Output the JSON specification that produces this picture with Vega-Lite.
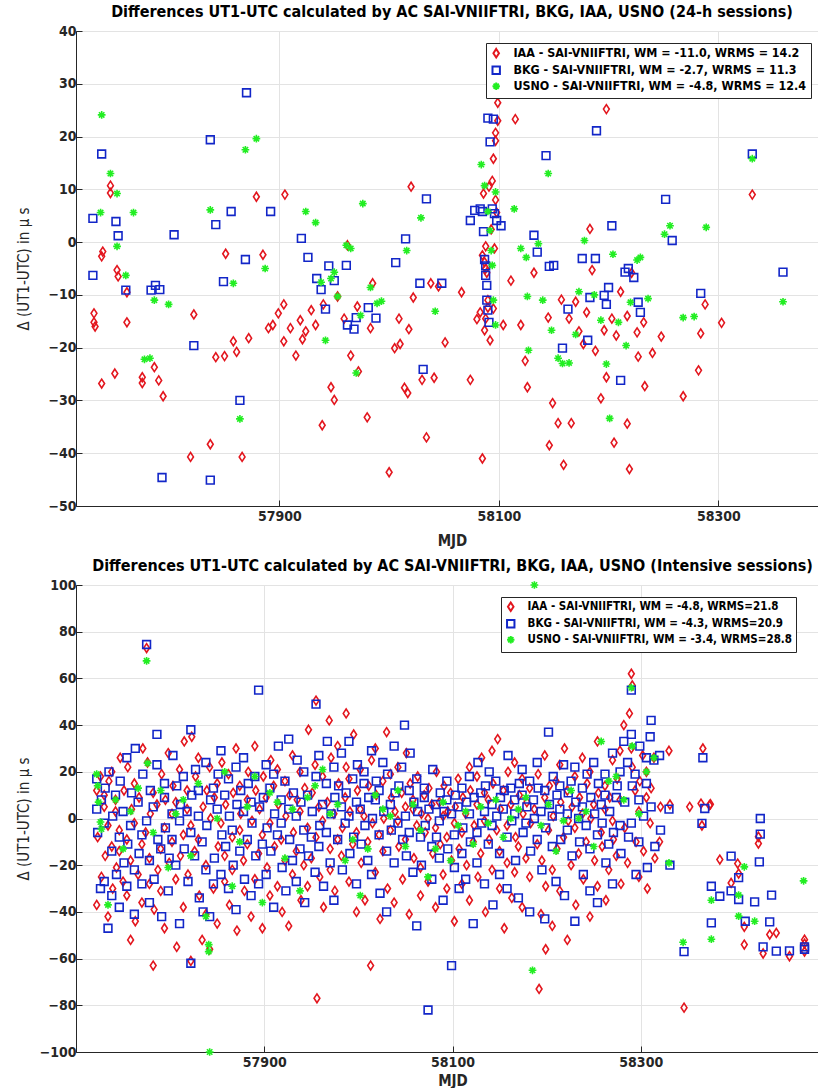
{
"$schema":"https://vega.github.io/schema/vega-lite/v6.json",
"background":"white",
"padding":{"left":15,"top":3,"right":0,"bottom":0},
"spacing":8,
"config":{
 "font":"DejaVu Sans Condensed, Liberation Sans, sans-serif",
 "view":{"stroke":"#262626","strokeWidth":1},
 "axis":{"labelFont":"DejaVu Sans Condensed, Liberation Sans, sans-serif","labelFontWeight":"bold","labelFontSize":14,"labelColor":"#262626","titleFont":"DejaVu Sans Condensed, Liberation Sans, sans-serif","titleFontWeight":"bold","titleFontSize":15,"titleColor":"#262626","gridColor":"#e3e3e3","gridWidth":1,"domainColor":"#262626","tickColor":"#262626","tickSize":-6,"labelPadding":9},
 "title":{"font":"DejaVu Sans Condensed, Liberation Sans, sans-serif","fontSize":16,"fontWeight":"bold","color":"black","anchor":"middle","frame":"group"},
 "legend":{"labelFont":"DejaVu Sans Condensed, Liberation Sans, sans-serif","labelFontWeight":"bold","labelFontSize":11.5,"labelColor":"black","labelLimit":500}
},
"resolve":{"scale":{"x":"independent","y":"independent","color":"independent","shape":"independent"},"legend":{"color":"independent","shape":"independent"}},
"datasets":{
"top":[
{"s":"I","x":57731,"y":-13.5},{"s":"I","x":57731,"y":-15.2},{"s":"I","x":57732,"y":-16},{"s":"I","x":57738,"y":-26.8},{"s":"I","x":57738,"y":-2.7},{"s":"I","x":57739,"y":-1.8},{"s":"I","x":57746,"y":10.7},{"s":"I","x":57746,"y":9.3},{"s":"I","x":57752,"y":-5.3},{"s":"I","x":57753,"y":-6.5},{"s":"I","x":57750,"y":-24.9},{"s":"I","x":57761,"y":-9.5},{"s":"I","x":57761,"y":-15.2},{"s":"I","x":57775,"y":-25.6},{"s":"I","x":57775,"y":-26.7},{"s":"I","x":57786,"y":-23.7},{"s":"I","x":57790,"y":-26.2},{"s":"I","x":57794,"y":-29.2},{"s":"I","x":57819,"y":-40.7},{"s":"I","x":57822,"y":-13.7},{"s":"I","x":57837,"y":-38.3},{"s":"I","x":57842,"y":-21.8},{"s":"I","x":57850,"y":-21.6},{"s":"I","x":57851,"y":-2.2},{"s":"I","x":57858,"y":-18.8},{"s":"I","x":57861,"y":-20.8},{"s":"I","x":57866,"y":-40.7},{"s":"I","x":57872,"y":-18.2},{"s":"I","x":57879,"y":8.6},{"s":"I","x":57885,"y":-2.4},{"s":"I","x":57890,"y":-16.3},{"s":"I","x":57894,"y":-15.7},{"s":"I","x":57899,"y":-13.5},{"s":"I","x":57904,"y":-11.8},{"s":"I","x":57904,"y":-18.8},{"s":"I","x":57905,"y":9},{"s":"I","x":57910,"y":-16.3},{"s":"I","x":57915,"y":-21.5},{"s":"I","x":57919,"y":-14.8},{"s":"I","x":57921,"y":-18.4},{"s":"I","x":57924,"y":-16.9},{"s":"I","x":57929,"y":-12.9},{"s":"I","x":57933,"y":-15.7},{"s":"I","x":57940,"y":-11.8},{"s":"I","x":57939,"y":-34.7},{"s":"I","x":57947,"y":-27.5},{"s":"I","x":57950,"y":-29.9},{"s":"I","x":57953,"y":-10.3},{"s":"I","x":57959,"y":-14.5},{"s":"I","x":57962,"y":-0.6},{"s":"I","x":57965,"y":-21.5},{"s":"I","x":57971,"y":-12.2},{"s":"I","x":57972,"y":-24.5},{"s":"I","x":57980,"y":-33.2},{"s":"I","x":57983,"y":-16.3},{"s":"I","x":57985,"y":-7.8},{"s":"I","x":58000,"y":-43.6},{"s":"I","x":58005,"y":-20.1},{"s":"I","x":58010,"y":-19.3},{"s":"I","x":58009,"y":-14.5},{"s":"I","x":58014,"y":-27.6},{"s":"I","x":58017,"y":-28.6},{"s":"I","x":58018,"y":-16.5},{"s":"I","x":58022,"y":-10.5},{"s":"I","x":58020,"y":10.5},{"s":"I","x":58030,"y":-26.1},{"s":"I","x":58034,"y":-37},{"s":"I","x":58038,"y":-7.8},{"s":"I","x":58041,"y":-25.7},{"s":"I","x":58045,"y":-8.4},{"s":"I","x":58051,"y":-19},{"s":"I","x":58066,"y":-9.5},{"s":"I","x":58074,"y":-26.1},{"s":"I","x":58080,"y":-14.6},{"s":"I","x":58083,"y":-13.3},{"s":"I","x":58085,"y":-41},{"s":"I","x":58085,"y":-2.5},{"s":"I","x":58087,"y":-3.8},{"s":"I","x":58088,"y":-5},{"s":"I","x":58089,"y":-5.8},{"s":"I","x":58090,"y":-11},{"s":"I","x":58087,"y":-16.7},{"s":"I","x":58088,"y":-14.5},{"s":"I","x":58090,"y":-12.4},{"s":"I","x":58092,"y":-18.6},{"s":"I","x":58086,"y":9.2},{"s":"I","x":58088,"y":-0.8},{"s":"I","x":58093,"y":2.4},{"s":"I","x":58091,"y":10.5},{"s":"I","x":58094,"y":11.6},{"s":"I","x":58095,"y":15.8},{"s":"I","x":58097,"y":19.2},{"s":"I","x":58097,"y":20.7},{"s":"I","x":58099,"y":23},{"s":"I","x":58099,"y":26.4},{"s":"I","x":58097,"y":8},{"s":"I","x":58098,"y":5.6},{"s":"I","x":58096,"y":-1.2},{"s":"I","x":58095,"y":-12.6},{"s":"I","x":58104,"y":-15.7},{"s":"I","x":58115,"y":23.3},{"s":"I","x":58111,"y":-7.3},{"s":"I","x":58120,"y":-15.7},{"s":"I","x":58124,"y":-22.5},{"s":"I","x":58126,"y":-27.5},{"s":"I","x":58132,"y":-5.8},{"s":"I","x":58145,"y":-14.3},{"s":"I","x":58146,"y":-38.5},{"s":"I","x":58149,"y":-30.5},{"s":"I","x":58154,"y":-34.3},{"s":"I","x":58157,"y":-10.9},{"s":"I","x":58159,"y":-42.2},{"s":"I","x":58164,"y":-14.5},{"s":"I","x":58166,"y":-34.3},{"s":"I","x":58170,"y":-11.3},{"s":"I","x":58173,"y":-16.9},{"s":"I","x":58177,"y":-19.3},{"s":"I","x":58180,"y":-13.3},{"s":"I","x":58183,"y":2.5},{"s":"I","x":58185,"y":-5.3},{"s":"I","x":58188,"y":-20.6},{"s":"I","x":58193,"y":-29.6},{"s":"I","x":58198,"y":25.2},{"s":"I","x":58196,"y":-16.7},{"s":"I","x":58198,"y":-25.6},{"s":"I","x":58203,"y":-14.5},{"s":"I","x":58205,"y":-38},{"s":"I","x":58207,"y":-17.7},{"s":"I","x":58211,"y":-9.4},{"s":"I","x":58217,"y":-34.4},{"s":"I","x":58217,"y":-14},{"s":"I","x":58219,"y":-43},{"s":"I","x":58221,"y":-5.8},{"s":"I","x":58226,"y":-17.1},{"s":"I","x":58227,"y":-21.7},{"s":"I","x":58232,"y":-15.2},{"s":"I","x":58233,"y":-27.3},{"s":"I","x":58240,"y":-21},{"s":"I","x":58248,"y":-17.9},{"s":"I","x":58268,"y":-29.2},{"s":"I","x":58282,"y":-24.3},{"s":"I","x":58288,"y":-11.8},{"s":"I","x":58284,"y":-17.3},{"s":"I","x":58303,"y":-15.3},{"s":"I","x":58331,"y":9},
{"s":"B","x":57730,"y":4.5},{"s":"B","x":57730,"y":-6.3},{"s":"B","x":57738,"y":16.7},{"s":"B","x":57751,"y":3.9},{"s":"B","x":57753,"y":1.2},{"s":"B","x":57760,"y":-9.1},{"s":"B","x":57783,"y":-9.1},{"s":"B","x":57787,"y":-8.2},{"s":"B","x":57791,"y":-9},{"s":"B","x":57793,"y":-44.6},{"s":"B","x":57804,"y":1.4},{"s":"B","x":57822,"y":-19.6},{"s":"B","x":57837,"y":-45.1},{"s":"B","x":57837,"y":19.4},{"s":"B","x":57842,"y":3.3},{"s":"B","x":57849,"y":-7.5},{"s":"B","x":57856,"y":5.8},{"s":"B","x":57864,"y":-30},{"s":"B","x":57869,"y":-3.3},{"s":"B","x":57870,"y":28.3},{"s":"B","x":57892,"y":5.8},{"s":"B","x":57920,"y":0.7},{"s":"B","x":57926,"y":-2.9},{"s":"B","x":57934,"y":-6.9},{"s":"B","x":57938,"y":-9},{"s":"B","x":57942,"y":-12.7},{"s":"B","x":57945,"y":-4.5},{"s":"B","x":57950,"y":-7.3},{"s":"B","x":57961,"y":-4.4},{"s":"B","x":57962,"y":-15.7},{"s":"B","x":57968,"y":-16.5},{"s":"B","x":57970,"y":-14.3},{"s":"B","x":57981,"y":-12.4},{"s":"B","x":57988,"y":-14.4},{"s":"B","x":58006,"y":-3.9},{"s":"B","x":58015,"y":0.6},{"s":"B","x":58028,"y":-7.8},{"s":"B","x":58034,"y":8.2},{"s":"B","x":58031,"y":-24.1},{"s":"B","x":58048,"y":-7.8},{"s":"B","x":58074,"y":4.1},{"s":"B","x":58078,"y":6},{"s":"B","x":58083,"y":6.3},{"s":"B","x":58085,"y":5.8},{"s":"B","x":58086,"y":2},{"s":"B","x":58087,"y":-3.3},{"s":"B","x":58088,"y":-4.5},{"s":"B","x":58088,"y":-6.3},{"s":"B","x":58089,"y":-8.2},{"s":"B","x":58089,"y":-11},{"s":"B","x":58090,"y":-12.9},{"s":"B","x":58091,"y":-15.2},{"s":"B","x":58090,"y":23.5},{"s":"B","x":58092,"y":19},{"s":"B","x":58095,"y":23.3},{"s":"B","x":58094,"y":6.3},{"s":"B","x":58096,"y":5.4},{"s":"B","x":58098,"y":4.1},{"s":"B","x":58102,"y":3.1},{"s":"B","x":58132,"y":1.3},{"s":"B","x":58135,"y":-1.9},{"s":"B","x":58143,"y":16.4},{"s":"B","x":58146,"y":-4.6},{"s":"B","x":58150,"y":-4.4},{"s":"B","x":58158,"y":-20.1},{"s":"B","x":58163,"y":-12.7},{"s":"B","x":58176,"y":-3.1},{"s":"B","x":58181,"y":-18.6},{"s":"B","x":58183,"y":-10.5},{"s":"B","x":58188,"y":-3.1},{"s":"B","x":58189,"y":21.1},{"s":"B","x":58196,"y":-10.1},{"s":"B","x":58198,"y":-11.8},{"s":"B","x":58200,"y":-8.6},{"s":"B","x":58203,"y":3.1},{"s":"B","x":58211,"y":-26.2},{"s":"B","x":58215,"y":-5.7},{"s":"B","x":58218,"y":-5},{"s":"B","x":58223,"y":-6.7},{"s":"B","x":58227,"y":-11.4},{"s":"B","x":58229,"y":-13.3},{"s":"B","x":58252,"y":8.1},{"s":"B","x":58258,"y":0.3},{"s":"B","x":58284,"y":-9.7},{"s":"B","x":58331,"y":16.7},{"s":"B","x":58359,"y":-5.7},
{"s":"U","x":57738,"y":24.1},{"s":"U","x":57737,"y":5.6},{"s":"U","x":57746,"y":13},{"s":"U","x":57752,"y":9.2},{"s":"U","x":57752,"y":-0.8},{"s":"U","x":57760,"y":-6.3},{"s":"U","x":57767,"y":5.6},{"s":"U","x":57777,"y":-22.2},{"s":"U","x":57782,"y":-22},{"s":"U","x":57786,"y":-11},{"s":"U","x":57799,"y":-11.8},{"s":"U","x":57837,"y":6.1},{"s":"U","x":57858,"y":-7.8},{"s":"U","x":57864,"y":-33.5},{"s":"U","x":57869,"y":17.5},{"s":"U","x":57879,"y":19.6},{"s":"U","x":57887,"y":-5},{"s":"U","x":57924,"y":5.8},{"s":"U","x":57933,"y":3.7},{"s":"U","x":57938,"y":-7.6},{"s":"U","x":57942,"y":-18.6},{"s":"U","x":57947,"y":-6.9},{"s":"U","x":57950,"y":-5.7},{"s":"U","x":57953,"y":-10.3},{"s":"U","x":57961,"y":-0.6},{"s":"U","x":57965,"y":-1.2},{"s":"U","x":57970,"y":-24.8},{"s":"U","x":57974,"y":-13.9},{"s":"U","x":57976,"y":7.3},{"s":"U","x":57983,"y":-8.6},{"s":"U","x":57989,"y":-11.6},{"s":"U","x":57993,"y":-11.2},{"s":"U","x":58016,"y":-1.6},{"s":"U","x":58029,"y":4.6},{"s":"U","x":58042,"y":-13.1},{"s":"U","x":58084,"y":14.7},{"s":"U","x":58087,"y":10.7},{"s":"U","x":58090,"y":5.8},{"s":"U","x":58092,"y":2.2},{"s":"U","x":58093,"y":-1.6},{"s":"U","x":58094,"y":-4.4},{"s":"U","x":58095,"y":-11},{"s":"U","x":58097,"y":-15.7},{"s":"U","x":58097,"y":9.5},{"s":"U","x":58114,"y":6.3},{"s":"U","x":58120,"y":-1.2},{"s":"U","x":58125,"y":-2.9},{"s":"U","x":58126,"y":-10.3},{"s":"U","x":58127,"y":-20.5},{"s":"U","x":58136,"y":-0.3},{"s":"U","x":58140,"y":-11},{"s":"U","x":58145,"y":13},{"s":"U","x":58148,"y":-16.7},{"s":"U","x":58154,"y":-22},{"s":"U","x":58158,"y":-23},{"s":"U","x":58164,"y":-22.9},{"s":"U","x":58170,"y":-17.5},{"s":"U","x":58173,"y":-9.4},{"s":"U","x":58178,"y":0.3},{"s":"U","x":58187,"y":-10},{"s":"U","x":58193,"y":-14.8},{"s":"U","x":58198,"y":-23.1},{"s":"U","x":58201,"y":-33.4},{"s":"U","x":58204,"y":-2.3},{"s":"U","x":58209,"y":-15.2},{"s":"U","x":58216,"y":-19.6},{"s":"U","x":58220,"y":-11.4},{"s":"U","x":58226,"y":-3.4},{"s":"U","x":58229,"y":-2.9},{"s":"U","x":58236,"y":-10.7},{"s":"U","x":58251,"y":1.5},{"s":"U","x":58256,"y":3.1},{"s":"U","x":58268,"y":-14.3},{"s":"U","x":58278,"y":-14.1},{"s":"U","x":58289,"y":2.8},{"s":"U","x":58331,"y":15.8},{"s":"U","x":58359,"y":-11.3}
],
"bot":[
{"s":"I","x":57722,"y":-37},{"s":"I","x":57722,"y":12},{"s":"I","x":57723,"y":-8},{"s":"I","x":57726,"y":18},{"s":"I","x":57727,"y":-25},{"s":"I","x":57730,"y":5},{"s":"I","x":57731,"y":-16},{"s":"I","x":57730,"y":10},{"s":"I","x":57734,"y":-42},{"s":"I","x":57735,"y":16},{"s":"I","x":57734,"y":-3},{"s":"I","x":57738,"y":20},{"s":"I","x":57739,"y":-30},{"s":"I","x":57738,"y":-12},{"s":"I","x":57742,"y":8},{"s":"I","x":57743,"y":-21},{"s":"I","x":57742,"y":3},{"s":"I","x":57746,"y":-5},{"s":"I","x":57747,"y":26},{"s":"I","x":57746,"y":-14},{"s":"I","x":57750,"y":-27},{"s":"I","x":57751,"y":12},{"s":"I","x":57754,"y":-9},{"s":"I","x":57755,"y":22},{"s":"I","x":57754,"y":-33},{"s":"I","x":57758,"y":-52},{"s":"I","x":57759,"y":4},{"s":"I","x":57758,"y":-18},{"s":"I","x":57762,"y":15},{"s":"I","x":57763,"y":-44},{"s":"I","x":57762,"y":-2},{"s":"I","x":57766,"y":-24},{"s":"I","x":57767,"y":9},{"s":"I","x":57770,"y":-11},{"s":"I","x":57771,"y":30},{"s":"I","x":57770,"y":-36},{"s":"I","x":57775,"y":73},{"s":"I","x":57776,"y":24},{"s":"I","x":57774,"y":-6},{"s":"I","x":57778,"y":-17},{"s":"I","x":57779,"y":2},{"s":"I","x":57778,"y":-28},{"s":"I","x":57782,"y":-63},{"s":"I","x":57783,"y":-39},{"s":"I","x":57782,"y":11},{"s":"I","x":57786,"y":6},{"s":"I","x":57787,"y":-22},{"s":"I","x":57790,"y":-13},{"s":"I","x":57791,"y":19},{"s":"I","x":57790,"y":-31},{"s":"I","x":57794,"y":-4},{"s":"I","x":57795,"y":8},{"s":"I","x":57794,"y":-47},{"s":"I","x":57798,"y":28},{"s":"I","x":57799,"y":-19},{"s":"I","x":57802,"y":-10},{"s":"I","x":57803,"y":14},{"s":"I","x":57802,"y":2},{"s":"I","x":57806,"y":-26},{"s":"I","x":57807,"y":-55},{"s":"I","x":57806,"y":7},{"s":"I","x":57810,"y":21},{"s":"I","x":57811,"y":-16},{"s":"I","x":57814,"y":-7},{"s":"I","x":57815,"y":33},{"s":"I","x":57814,"y":-38},{"s":"I","x":57818,"y":4},{"s":"I","x":57819,"y":-24},{"s":"I","x":57818,"y":12},{"s":"I","x":57822,"y":-61},{"s":"I","x":57823,"y":35},{"s":"I","x":57822,"y":-3},{"s":"I","x":57826,"y":-14},{"s":"I","x":57827,"y":18},{"s":"I","x":57830,"y":26},{"s":"I","x":57831,"y":-33},{"s":"I","x":57830,"y":-9},{"s":"I","x":57834,"y":-52},{"s":"I","x":57835,"y":5},{"s":"I","x":57838,"y":-41},{"s":"I","x":57839,"y":12},{"s":"I","x":57838,"y":-20},{"s":"I","x":57842,"y":-56},{"s":"I","x":57843,"y":0},{"s":"I","x":57842,"y":22},{"s":"I","x":57846,"y":-30},{"s":"I","x":57847,"y":9},{"s":"I","x":57850,"y":15},{"s":"I","x":57851,"y":-12},{"s":"I","x":57850,"y":-45},{"s":"I","x":57854,"y":-2},{"s":"I","x":57855,"y":24},{"s":"I","x":57858,"y":-27},{"s":"I","x":57859,"y":6},{"s":"I","x":57858,"y":-16},{"s":"I","x":57862,"y":19},{"s":"I","x":57863,"y":-37},{"s":"I","x":57866,"y":-8},{"s":"I","x":57867,"y":11},{"s":"I","x":57866,"y":-22},{"s":"I","x":57870,"y":30},{"s":"I","x":57871,"y":-48},{"s":"I","x":57874,"y":-5},{"s":"I","x":57875,"y":2},{"s":"I","x":57874,"y":14},{"s":"I","x":57878,"y":-18},{"s":"I","x":57879,"y":-31},{"s":"I","x":57882,"y":8},{"s":"I","x":57883,"y":20},{"s":"I","x":57882,"y":-11},{"s":"I","x":57886,"y":-42},{"s":"I","x":57887,"y":-1},{"s":"I","x":57890,"y":31},{"s":"I","x":57891,"y":12},{"s":"I","x":57890,"y":-26},{"s":"I","x":57894,"y":-15},{"s":"I","x":57895,"y":4},{"s":"I","x":57898,"y":-47},{"s":"I","x":57899,"y":18},{"s":"I","x":57898,"y":-7},{"s":"I","x":57902,"y":9},{"s":"I","x":57903,"y":-21},{"s":"I","x":57906,"y":-33},{"s":"I","x":57907,"y":25},{"s":"I","x":57906,"y":-2},{"s":"I","x":57910,"y":14},{"s":"I","x":57911,"y":-12},{"s":"I","x":57914,"y":-29},{"s":"I","x":57915,"y":6},{"s":"I","x":57914,"y":21},{"s":"I","x":57918,"y":-9},{"s":"I","x":57919,"y":-40},{"s":"I","x":57922,"y":16},{"s":"I","x":57923,"y":1},{"s":"I","x":57922,"y":-18},{"s":"I","x":57926,"y":-46},{"s":"I","x":57927,"y":10},{"s":"I","x":57930,"y":27},{"s":"I","x":57931,"y":-6},{"s":"I","x":57930,"y":-24},{"s":"I","x":57934,"y":-14},{"s":"I","x":57935,"y":8},{"s":"I","x":57938,"y":20},{"s":"I","x":57939,"y":-35},{"s":"I","x":57938,"y":3},{"s":"I","x":57942,"y":-20},{"s":"I","x":57943,"y":13},{"s":"I","x":57946,"y":-4},{"s":"I","x":57947,"y":38},{"s":"I","x":57946,"y":-29},{"s":"I","x":57955,"y":50.5},{"s":"I","x":57951,"y":11},{"s":"I","x":57950,"y":-17},{"s":"I","x":57956,"y":-77},{"s":"I","x":57955,"y":-8},{"s":"I","x":57954,"y":23},{"s":"I","x":57958,"y":5},{"s":"I","x":57959,"y":-25},{"s":"I","x":57962,"y":18},{"s":"I","x":57963,"y":-38},{"s":"I","x":57962,"y":-1},{"s":"I","x":57969,"y":42},{"s":"I","x":57967,"y":7},{"s":"I","x":57970,"y":-13},{"s":"I","x":57971,"y":26},{"s":"I","x":57970,"y":-22},{"s":"I","x":57974,"y":2},{"s":"I","x":57975,"y":-31},{"s":"I","x":57978,"y":31},{"s":"I","x":57979,"y":15},{"s":"I","x":57978,"y":-9},{"s":"I","x":57987,"y":45},{"s":"I","x":57983,"y":-4},{"s":"I","x":57982,"y":-16},{"s":"I","x":57986,"y":9},{"s":"I","x":57987,"y":22},{"s":"I","x":57990,"y":-27},{"s":"I","x":57991,"y":3},{"s":"I","x":57990,"y":17},{"s":"I","x":57994,"y":-11},{"s":"I","x":57995,"y":36},{"s":"I","x":57998,"y":-40},{"s":"I","x":57999,"y":12},{"s":"I","x":57998,"y":-6},{"s":"I","x":58002,"y":21},{"s":"I","x":58003,"y":-19},{"s":"I","x":58002,"y":4},{"s":"I","x":58006,"y":1},{"s":"I","x":58007,"y":-35},{"s":"I","x":58013,"y":-63},{"s":"I","x":58011,"y":14},{"s":"I","x":58010,"y":-10},{"s":"I","x":58014,"y":25},{"s":"I","x":58015,"y":-2},{"s":"I","x":58018,"y":-23},{"s":"I","x":58019,"y":10},{"s":"I","x":58018,"y":30},{"s":"I","x":58022,"y":-7},{"s":"I","x":58023,"y":-43},{"s":"I","x":58026,"y":16},{"s":"I","x":58027,"y":0},{"s":"I","x":58026,"y":-14},{"s":"I","x":58030,"y":37},{"s":"I","x":58031,"y":-30},{"s":"I","x":58034,"y":-5},{"s":"I","x":58035,"y":9},{"s":"I","x":58034,"y":19},{"s":"I","x":58038,"y":-36},{"s":"I","x":58039,"y":3},{"s":"I","x":58042,"y":22},{"s":"I","x":58043,"y":-12},{"s":"I","x":58042,"y":-1},{"s":"I","x":58046,"y":11},{"s":"I","x":58047,"y":-26},{"s":"I","x":58050,"y":-9},{"s":"I","x":58051,"y":28},{"s":"I","x":58050,"y":5},{"s":"I","x":58054,"y":-41},{"s":"I","x":58055,"y":15},{"s":"I","x":58058,"y":4},{"s":"I","x":58059,"y":-17},{"s":"I","x":58058,"y":8},{"s":"I","x":58062,"y":-3},{"s":"I","x":58063,"y":18},{"s":"I","x":58066,"y":-21},{"s":"I","x":58067,"y":2},{"s":"I","x":58066,"y":-33},{"s":"I","x":58070,"y":10},{"s":"I","x":58071,"y":-6},{"s":"I","x":58074,"y":-27},{"s":"I","x":58075,"y":13},{"s":"I","x":58074,"y":0},{"s":"I","x":58078,"y":6},{"s":"I","x":58079,"y":-15},{"s":"I","x":58082,"y":-38},{"s":"I","x":58083,"y":20},{"s":"I","x":58082,"y":-4},{"s":"I","x":58086,"y":7},{"s":"I","x":58087,"y":-11},{"s":"I","x":58090,"y":-24},{"s":"I","x":58091,"y":14},{"s":"I","x":58090,"y":1},{"s":"I","x":58094,"y":-8},{"s":"I","x":58095,"y":3},{"s":"I","x":58094,"y":-30},{"s":"I","x":58098,"y":11},{"s":"I","x":58099,"y":-18},{"s":"I","x":58102,"y":-44},{"s":"I","x":58103,"y":5},{"s":"I","x":58102,"y":-2},{"s":"I","x":58106,"y":17},{"s":"I","x":58107,"y":-13},{"s":"I","x":58110,"y":-6},{"s":"I","x":58111,"y":9},{"s":"I","x":58110,"y":-28},{"s":"I","x":58114,"y":2},{"s":"I","x":58115,"y":-20},{"s":"I","x":58118,"y":-35},{"s":"I","x":58119,"y":12},{"s":"I","x":58118,"y":22},{"s":"I","x":58122,"y":-10},{"s":"I","x":58123,"y":-3},{"s":"I","x":58126,"y":18},{"s":"I","x":58127,"y":-25},{"s":"I","x":58126,"y":6},{"s":"I","x":58130,"y":-15},{"s":"I","x":58131,"y":26},{"s":"I","x":58134,"y":-1},{"s":"I","x":58135,"y":-40},{"s":"I","x":58134,"y":11},{"s":"I","x":58138,"y":8},{"s":"I","x":58139,"y":-9},{"s":"I","x":58142,"y":-22},{"s":"I","x":58143,"y":15},{"s":"I","x":58142,"y":29},{"s":"I","x":58148,"y":34},{"s":"I","x":58147,"y":-5},{"s":"I","x":58150,"y":-30},{"s":"I","x":58151,"y":4},{"s":"I","x":58150,"y":-14},{"s":"I","x":58154,"y":12},{"s":"I","x":58155,"y":-47},{"s":"I","x":58158,"y":-3},{"s":"I","x":58159,"y":20},{"s":"I","x":58158,"y":-19},{"s":"I","x":58162,"y":6},{"s":"I","x":58163,"y":-34},{"s":"I","x":58166,"y":24},{"s":"I","x":58167,"y":-8},{"s":"I","x":58166,"y":-23},{"s":"I","x":58170,"y":-12},{"s":"I","x":58171,"y":10},{"s":"I","x":58174,"y":-38},{"s":"I","x":58175,"y":2},{"s":"I","x":58174,"y":17},{"s":"I","x":58178,"y":-17},{"s":"I","x":58179,"y":7},{"s":"I","x":58182,"y":-25},{"s":"I","x":58183,"y":-2},{"s":"I","x":58182,"y":13},{"s":"I","x":58192,"y":-73},{"s":"I","x":58187,"y":4},{"s":"I","x":58199,"y":-56},{"s":"I","x":58191,"y":19},{"s":"I","x":58190,"y":-11},{"s":"I","x":58194,"y":-41},{"s":"I","x":58195,"y":-18},{"s":"I","x":58198,"y":9},{"s":"I","x":58199,"y":-29},{"s":"I","x":58198,"y":27},{"s":"I","x":58202,"y":-5},{"s":"I","x":58203,"y":14},{"s":"I","x":58206,"y":-46},{"s":"I","x":58207,"y":1},{"s":"I","x":58206,"y":-22},{"s":"I","x":58210,"y":16},{"s":"I","x":58211,"y":-13},{"s":"I","x":58214,"y":-31},{"s":"I","x":58215,"y":7},{"s":"I","x":58214,"y":23},{"s":"I","x":58218,"y":-8},{"s":"I","x":58219,"y":30},{"s":"I","x":58222,"y":-52},{"s":"I","x":58223,"y":-1},{"s":"I","x":58222,"y":12},{"s":"I","x":58226,"y":-20},{"s":"I","x":58227,"y":5},{"s":"I","x":58230,"y":18},{"s":"I","x":58231,"y":-37},{"s":"I","x":58230,"y":-4},{"s":"I","x":58234,"y":-15},{"s":"I","x":58235,"y":9},{"s":"I","x":58238,"y":26},{"s":"I","x":58239,"y":-26},{"s":"I","x":58238,"y":2},{"s":"I","x":58242,"y":-10},{"s":"I","x":58243,"y":15},{"s":"I","x":58246,"y":-42},{"s":"I","x":58247,"y":0},{"s":"I","x":58246,"y":20},{"s":"I","x":58250,"y":6},{"s":"I","x":58251,"y":-18},{"s":"I","x":58254,"y":-29},{"s":"I","x":58255,"y":11},{"s":"I","x":58254,"y":33},{"s":"I","x":58258,"y":-6},{"s":"I","x":58259,"y":-12},{"s":"I","x":58262,"y":14},{"s":"I","x":58263,"y":-35},{"s":"I","x":58262,"y":4},{"s":"I","x":58266,"y":-22},{"s":"I","x":58267,"y":9},{"s":"I","x":58270,"y":25},{"s":"I","x":58271,"y":-9},{"s":"I","x":58270,"y":-1},{"s":"I","x":58274,"y":-16},{"s":"I","x":58275,"y":17},{"s":"I","x":58278,"y":29},{"s":"I","x":58279,"y":-28},{"s":"I","x":58278,"y":8},{"s":"I","x":58282,"y":40},{"s":"I","x":58283,"y":-4},{"s":"I","x":58290,"y":62},{"s":"I","x":58288,"y":45},{"s":"I","x":58286,"y":-19},{"s":"I","x":58291,"y":57},{"s":"I","x":58291,"y":22},{"s":"I","x":58290,"y":30},{"s":"I","x":58294,"y":12},{"s":"I","x":58295,"y":-10},{"s":"I","x":58298,"y":-25},{"s":"I","x":58299,"y":16},{"s":"I","x":58298,"y":3},{"s":"I","x":58302,"y":27},{"s":"I","x":58303,"y":-14},{"s":"I","x":58306,"y":9},{"s":"I","x":58307,"y":-30},{"s":"I","x":58306,"y":20},{"s":"I","x":58310,"y":-2},{"s":"I","x":58311,"y":13},{"s":"I","x":58314,"y":26},{"s":"I","x":58315,"y":-17},{"s":"I","x":58320,"y":-10},{"s":"I","x":58321,"y":5},{"s":"I","x":58330,"y":29},{"s":"I","x":58331,"y":6},{"s":"I","x":58346,"y":-81},{"s":"I","x":58352,"y":5},{"s":"I","x":58366,"y":30},{"s":"I","x":58364,"y":6.4},{"s":"I","x":58365,"y":-3},{"s":"I","x":58373,"y":5.7},{"s":"I","x":58374,"y":6.1},{"s":"I","x":58384,"y":-17.6},{"s":"I","x":58396,"y":-27.6},{"s":"I","x":58403,"y":-19.3},{"s":"I","x":58404,"y":-23.6},{"s":"I","x":58410,"y":-46.4},{"s":"I","x":58410,"y":-54},{"s":"I","x":58425,"y":-7.8},{"s":"I","x":58425,"y":-10.7},{"s":"I","x":58430,"y":-57.8},{"s":"I","x":58437,"y":-49.7},{"s":"I","x":58444,"y":-49},{"s":"I","x":58458,"y":-59},{"s":"I","x":58474,"y":-51.9},{"s":"I","x":58474,"y":-53.6},{"s":"I","x":58474,"y":-57},
{"s":"B","x":57722,"y":17},{"s":"B","x":57723,"y":-6},{"s":"B","x":57722,"y":4},{"s":"B","x":57726,"y":-30},{"s":"B","x":57727,"y":8},{"s":"B","x":57730,"y":-27},{"s":"B","x":57731,"y":13},{"s":"B","x":57730,"y":-2},{"s":"B","x":57734,"y":-47},{"s":"B","x":57735,"y":20},{"s":"B","x":57738,"y":-14},{"s":"B","x":57739,"y":1},{"s":"B","x":57738,"y":-33},{"s":"B","x":57742,"y":10},{"s":"B","x":57743,"y":-24},{"s":"B","x":57746,"y":-38},{"s":"B","x":57747,"y":16},{"s":"B","x":57746,"y":-8},{"s":"B","x":57750,"y":3},{"s":"B","x":57751,"y":-19},{"s":"B","x":57754,"y":26},{"s":"B","x":57755,"y":-11},{"s":"B","x":57754,"y":-29},{"s":"B","x":57758,"y":-3},{"s":"B","x":57759,"y":11},{"s":"B","x":57762,"y":-22},{"s":"B","x":57763,"y":30},{"s":"B","x":57762,"y":-41},{"s":"B","x":57766,"y":7},{"s":"B","x":57767,"y":-15},{"s":"B","x":57770,"y":-7},{"s":"B","x":57771,"y":19},{"s":"B","x":57770,"y":-28},{"s":"B","x":57775,"y":74.5},{"s":"B","x":57775,"y":-1},{"s":"B","x":57778,"y":-36},{"s":"B","x":57779,"y":12},{"s":"B","x":57778,"y":-18},{"s":"B","x":57782,"y":5},{"s":"B","x":57783,"y":-26},{"s":"B","x":57786,"y":23},{"s":"B","x":57787,"y":-9},{"s":"B","x":57786,"y":36},{"s":"B","x":57790,"y":-13},{"s":"B","x":57791,"y":-42},{"s":"B","x":57794,"y":9},{"s":"B","x":57795,"y":-4},{"s":"B","x":57794,"y":15},{"s":"B","x":57798,"y":-31},{"s":"B","x":57799,"y":-17},{"s":"B","x":57802,"y":2},{"s":"B","x":57803,"y":27},{"s":"B","x":57802,"y":-9},{"s":"B","x":57806,"y":-20},{"s":"B","x":57807,"y":14},{"s":"B","x":57810,"y":-45},{"s":"B","x":57811,"y":6},{"s":"B","x":57810,"y":-1},{"s":"B","x":57814,"y":18},{"s":"B","x":57815,"y":-13},{"s":"B","x":57822,"y":38},{"s":"B","x":57819,"y":-27},{"s":"B","x":57818,"y":3},{"s":"B","x":57822,"y":-62},{"s":"B","x":57823,"y":10},{"s":"B","x":57822,"y":-6},{"s":"B","x":57826,"y":-16},{"s":"B","x":57827,"y":21},{"s":"B","x":57830,"y":1},{"s":"B","x":57831,"y":-34},{"s":"B","x":57830,"y":12},{"s":"B","x":57834,"y":-10},{"s":"B","x":57835,"y":-40},{"s":"B","x":57838,"y":24},{"s":"B","x":57839,"y":-3},{"s":"B","x":57838,"y":-22},{"s":"B","x":57842,"y":-42},{"s":"B","x":57843,"y":8},{"s":"B","x":57846,"y":13},{"s":"B","x":57847,"y":-17},{"s":"B","x":57846,"y":-28},{"s":"B","x":57850,"y":4},{"s":"B","x":57851,"y":19},{"s":"B","x":57854,"y":-24},{"s":"B","x":57855,"y":-7},{"s":"B","x":57854,"y":29},{"s":"B","x":57858,"y":10},{"s":"B","x":57859,"y":-12},{"s":"B","x":57862,"y":-30},{"s":"B","x":57863,"y":1},{"s":"B","x":57862,"y":17},{"s":"B","x":57866,"y":-5},{"s":"B","x":57867,"y":-20},{"s":"B","x":57870,"y":22},{"s":"B","x":57871,"y":6},{"s":"B","x":57870,"y":-39},{"s":"B","x":57874,"y":-14},{"s":"B","x":57875,"y":12},{"s":"B","x":57878,"y":3},{"s":"B","x":57879,"y":-26},{"s":"B","x":57878,"y":26},{"s":"B","x":57882,"y":-9},{"s":"B","x":57883,"y":15},{"s":"B","x":57886,"y":-33},{"s":"B","x":57887,"y":-2},{"s":"B","x":57886,"y":7},{"s":"B","x":57890,"y":18},{"s":"B","x":57891,"y":-16},{"s":"B","x":57894,"y":55},{"s":"B","x":57895,"y":5},{"s":"B","x":57894,"y":-28},{"s":"B","x":57898,"y":-11},{"s":"B","x":57899,"y":9},{"s":"B","x":57902,"y":23},{"s":"B","x":57903,"y":-4},{"s":"B","x":57902,"y":-24},{"s":"B","x":57906,"y":13},{"s":"B","x":57907,"y":-14},{"s":"B","x":57910,"y":-38},{"s":"B","x":57911,"y":2},{"s":"B","x":57910,"y":19},{"s":"B","x":57914,"y":-7},{"s":"B","x":57915,"y":31},{"s":"B","x":57918,"y":8},{"s":"B","x":57919,"y":-21},{"s":"B","x":57918,"y":-2},{"s":"B","x":57922,"y":16},{"s":"B","x":57923,"y":-31},{"s":"B","x":57926,"y":34},{"s":"B","x":57927,"y":-9},{"s":"B","x":57926,"y":4},{"s":"B","x":57930,"y":-18},{"s":"B","x":57931,"y":11},{"s":"B","x":57934,"y":1},{"s":"B","x":57935,"y":25},{"s":"B","x":57934,"y":-27},{"s":"B","x":57938,"y":-13},{"s":"B","x":57939,"y":7},{"s":"B","x":57942,"y":20},{"s":"B","x":57943,"y":-36},{"s":"B","x":57942,"y":-5},{"s":"B","x":57946,"y":10},{"s":"B","x":57947,"y":-16},{"s":"B","x":57955,"y":49},{"s":"B","x":57951,"y":3},{"s":"B","x":57950,"y":-8},{"s":"B","x":57954,"y":-23},{"s":"B","x":57955,"y":18},{"s":"B","x":57958,"y":27},{"s":"B","x":57959,"y":-3},{"s":"B","x":57958,"y":-12},{"s":"B","x":57962,"y":6},{"s":"B","x":57963,"y":-29},{"s":"B","x":57966,"y":15},{"s":"B","x":57967,"y":33},{"s":"B","x":57966,"y":-6},{"s":"B","x":57970,"y":-19},{"s":"B","x":57971,"y":2},{"s":"B","x":57974,"y":22},{"s":"B","x":57975,"y":9},{"s":"B","x":57974,"y":-35},{"s":"B","x":57978,"y":-9},{"s":"B","x":57979,"y":14},{"s":"B","x":57982,"y":5},{"s":"B","x":57983,"y":-22},{"s":"B","x":57982,"y":28},{"s":"B","x":57986,"y":-2},{"s":"B","x":57987,"y":11},{"s":"B","x":57990,"y":33},{"s":"B","x":57991,"y":-15},{"s":"B","x":57990,"y":1},{"s":"B","x":57994,"y":17},{"s":"B","x":57995,"y":-8},{"s":"B","x":57998,"y":-28},{"s":"B","x":57999,"y":23},{"s":"B","x":57998,"y":7},{"s":"B","x":58002,"y":4},{"s":"B","x":58003,"y":-11},{"s":"B","x":58006,"y":15},{"s":"B","x":58007,"y":-3},{"s":"B","x":58006,"y":20},{"s":"B","x":58010,"y":-18},{"s":"B","x":58011,"y":9},{"s":"B","x":58014,"y":29},{"s":"B","x":58015,"y":0},{"s":"B","x":58014,"y":-24},{"s":"B","x":58018,"y":8},{"s":"B","x":58019,"y":16},{"s":"B","x":58022,"y":-7},{"s":"B","x":58023,"y":-32},{"s":"B","x":58022,"y":12},{"s":"B","x":58026,"y":24},{"s":"B","x":58027,"y":3},{"s":"B","x":58030,"y":-14},{"s":"B","x":58031,"y":19},{"s":"B","x":58030,"y":-40},{"s":"B","x":58034,"y":6},{"s":"B","x":58035,"y":-5},{"s":"B","x":58038,"y":31},{"s":"B","x":58039,"y":11},{"s":"B","x":58038,"y":-19},{"s":"B","x":58042,"y":-2},{"s":"B","x":58043,"y":14},{"s":"B","x":58049,"y":40},{"s":"B","x":58047,"y":-9},{"s":"B","x":58046,"y":22},{"s":"B","x":58050,"y":1},{"s":"B","x":58051,"y":-16},{"s":"B","x":58054,"y":12},{"s":"B","x":58055,"y":28},{"s":"B","x":58054,"y":-6},{"s":"B","x":58058,"y":-23},{"s":"B","x":58059,"y":7},{"s":"B","x":58062,"y":-46},{"s":"B","x":58063,"y":3},{"s":"B","x":58062,"y":17},{"s":"B","x":58066,"y":-8},{"s":"B","x":58067,"y":-20},{"s":"B","x":58070,"y":9},{"s":"B","x":58071,"y":-3},{"s":"B","x":58070,"y":13},{"s":"B","x":58074,"y":-82},{"s":"B","x":58075,"y":4},{"s":"B","x":58078,"y":-12},{"s":"B","x":58079,"y":21},{"s":"B","x":58078,"y":-26},{"s":"B","x":58082,"y":6},{"s":"B","x":58083,"y":-8},{"s":"B","x":58086,"y":-17},{"s":"B","x":58087,"y":11},{"s":"B","x":58086,"y":-1},{"s":"B","x":58090,"y":-35},{"s":"B","x":58091,"y":3},{"s":"B","x":58094,"y":8},{"s":"B","x":58095,"y":-13},{"s":"B","x":58094,"y":16},{"s":"B","x":58099,"y":-63},{"s":"B","x":58099,"y":2},{"s":"B","x":58102,"y":-21},{"s":"B","x":58103,"y":10},{"s":"B","x":58102,"y":-7},{"s":"B","x":58106,"y":5},{"s":"B","x":58107,"y":-30},{"s":"B","x":58110,"y":13},{"s":"B","x":58111,"y":-4},{"s":"B","x":58110,"y":-15},{"s":"B","x":58114,"y":-26},{"s":"B","x":58115,"y":7},{"s":"B","x":58118,"y":2},{"s":"B","x":58119,"y":-10},{"s":"B","x":58118,"y":18},{"s":"B","x":58122,"y":-45},{"s":"B","x":58123,"y":9},{"s":"B","x":58126,"y":-6},{"s":"B","x":58127,"y":24},{"s":"B","x":58126,"y":-19},{"s":"B","x":58130,"y":11},{"s":"B","x":58131,"y":-2},{"s":"B","x":58134,"y":-28},{"s":"B","x":58135,"y":14},{"s":"B","x":58134,"y":3},{"s":"B","x":58138,"y":-11},{"s":"B","x":58139,"y":20},{"s":"B","x":58142,"y":6},{"s":"B","x":58143,"y":-37},{"s":"B","x":58142,"y":-3},{"s":"B","x":58146,"y":16},{"s":"B","x":58147,"y":1},{"s":"B","x":58150,"y":-15},{"s":"B","x":58151,"y":9},{"s":"B","x":58150,"y":-24},{"s":"B","x":58154,"y":4},{"s":"B","x":58155,"y":12},{"s":"B","x":58158,"y":-8},{"s":"B","x":58159,"y":27},{"s":"B","x":58158,"y":-30},{"s":"B","x":58162,"y":13},{"s":"B","x":58163,"y":-1},{"s":"B","x":58166,"y":2},{"s":"B","x":58167,"y":-18},{"s":"B","x":58166,"y":8},{"s":"B","x":58170,"y":-34},{"s":"B","x":58171,"y":15},{"s":"B","x":58174,"y":10},{"s":"B","x":58175,"y":-6},{"s":"B","x":58174,"y":21},{"s":"B","x":58178,"y":-2},{"s":"B","x":58179,"y":5},{"s":"B","x":58182,"y":16},{"s":"B","x":58183,"y":-14},{"s":"B","x":58182,"y":-40},{"s":"B","x":58186,"y":8},{"s":"B","x":58187,"y":0},{"s":"B","x":58190,"y":-9},{"s":"B","x":58191,"y":13},{"s":"B","x":58190,"y":24},{"s":"B","x":58194,"y":3},{"s":"B","x":58195,"y":-22},{"s":"B","x":58198,"y":12},{"s":"B","x":58199,"y":-4},{"s":"B","x":58198,"y":-43},{"s":"B","x":58202,"y":37},{"s":"B","x":58203,"y":6},{"s":"B","x":58206,"y":-12},{"s":"B","x":58207,"y":18},{"s":"B","x":58206,"y":1},{"s":"B","x":58210,"y":-27},{"s":"B","x":58211,"y":10},{"s":"B","x":58214,"y":4},{"s":"B","x":58215,"y":-9},{"s":"B","x":58214,"y":14},{"s":"B","x":58218,"y":23},{"s":"B","x":58219,"y":-33},{"s":"B","x":58222,"y":-5},{"s":"B","x":58223,"y":11},{"s":"B","x":58222,"y":2},{"s":"B","x":58226,"y":16},{"s":"B","x":58227,"y":-16},{"s":"B","x":58230,"y":-44},{"s":"B","x":58231,"y":7},{"s":"B","x":58230,"y":22},{"s":"B","x":58234,"y":0},{"s":"B","x":58235,"y":-10},{"s":"B","x":58238,"y":13},{"s":"B","x":58239,"y":-24},{"s":"B","x":58238,"y":5},{"s":"B","x":58242,"y":-3},{"s":"B","x":58243,"y":19},{"s":"B","x":58246,"y":-31},{"s":"B","x":58247,"y":9},{"s":"B","x":58246,"y":-13},{"s":"B","x":58250,"y":24},{"s":"B","x":58251,"y":2},{"s":"B","x":58254,"y":-7},{"s":"B","x":58255,"y":15},{"s":"B","x":58254,"y":-36},{"s":"B","x":58258,"y":6},{"s":"B","x":58259,"y":-2},{"s":"B","x":58262,"y":19},{"s":"B","x":58263,"y":-19},{"s":"B","x":58262,"y":10},{"s":"B","x":58266,"y":-11},{"s":"B","x":58267,"y":3},{"s":"B","x":58270,"y":28},{"s":"B","x":58271,"y":-6},{"s":"B","x":58270,"y":-28},{"s":"B","x":58274,"y":9},{"s":"B","x":58275,"y":14},{"s":"B","x":58278,"y":20},{"s":"B","x":58279,"y":-15},{"s":"B","x":58278,"y":-3},{"s":"B","x":58282,"y":33},{"s":"B","x":58283,"y":7},{"s":"B","x":58290,"y":55},{"s":"B","x":58287,"y":-8},{"s":"B","x":58286,"y":24},{"s":"B","x":58290,"y":36},{"s":"B","x":58291,"y":14},{"s":"B","x":58290,"y":-2},{"s":"B","x":58294,"y":19},{"s":"B","x":58295,"y":-24},{"s":"B","x":58298,"y":8},{"s":"B","x":58299,"y":31},{"s":"B","x":58298,"y":-10},{"s":"B","x":58311,"y":42},{"s":"B","x":58303,"y":1},{"s":"B","x":58306,"y":15},{"s":"B","x":58307,"y":-21},{"s":"B","x":58306,"y":26},{"s":"B","x":58310,"y":35},{"s":"B","x":58311,"y":5},{"s":"B","x":58314,"y":25},{"s":"B","x":58315,"y":-12},{"s":"B","x":58320,"y":27},{"s":"B","x":58321,"y":-5},{"s":"B","x":58330,"y":4},{"s":"B","x":58331,"y":-20},{"s":"B","x":58346,"y":-57},{"s":"B","x":58366,"y":26},{"s":"B","x":58368,"y":4.3},{"s":"B","x":58365,"y":-2.1},{"s":"B","x":58375,"y":-29},{"s":"B","x":58375,"y":-44.7},{"s":"B","x":58384,"y":-33.3},{"s":"B","x":58396,"y":-16.1},{"s":"B","x":58396,"y":-31},{"s":"B","x":58404,"y":-25.3},{"s":"B","x":58404,"y":-34.7},{"s":"B","x":58411,"y":-44},{"s":"B","x":58421,"y":-35.7},{"s":"B","x":58426,"y":-18.6},{"s":"B","x":58427,"y":0},{"s":"B","x":58427,"y":-6.7},{"s":"B","x":58430,"y":-55},{"s":"B","x":58437,"y":-44.3},{"s":"B","x":58439,"y":-32.8},{"s":"B","x":58444,"y":-56.8},{"s":"B","x":58458,"y":-56.7},{"s":"B","x":58474,"y":-55},{"s":"B","x":58474,"y":-56},
{"s":"U","x":57722,"y":19},{"s":"U","x":57723,"y":14},{"s":"U","x":57724,"y":7},{"s":"U","x":57726,"y":-1.5},{"s":"U","x":57727,"y":-4.5},{"s":"U","x":57734,"y":-37},{"s":"U","x":57742,"y":8},{"s":"U","x":57750,"y":-13},{"s":"U","x":57758,"y":3},{"s":"U","x":57766,"y":13},{"s":"U","x":57775,"y":67.5},{"s":"U","x":57776,"y":23.7},{"s":"U","x":57782,"y":-6},{"s":"U","x":57790,"y":12},{"s":"U","x":57798,"y":-21},{"s":"U","x":57806,"y":2},{"s":"U","x":57814,"y":8},{"s":"U","x":57822,"y":-16},{"s":"U","x":57830,"y":15},{"s":"U","x":57838,"y":-42},{"s":"U","x":57841,"y":-54},{"s":"U","x":57841,"y":-57},{"s":"U","x":57842,"y":-100},{"s":"U","x":57850,"y":0},{"s":"U","x":57858,"y":20},{"s":"U","x":57866,"y":-29},{"s":"U","x":57874,"y":-10},{"s":"U","x":57882,"y":5},{"s":"U","x":57890,"y":18},{"s":"U","x":57898,"y":-36},{"s":"U","x":57906,"y":11},{"s":"U","x":57914,"y":7},{"s":"U","x":57922,"y":-17},{"s":"U","x":57930,"y":4},{"s":"U","x":57938,"y":-31},{"s":"U","x":57946,"y":9},{"s":"U","x":57954,"y":14},{"s":"U","x":57962,"y":21},{"s":"U","x":57970,"y":2},{"s":"U","x":57978,"y":6},{"s":"U","x":57986,"y":-18},{"s":"U","x":57994,"y":-9},{"s":"U","x":58002,"y":-33},{"s":"U","x":58010,"y":-13},{"s":"U","x":58018,"y":10},{"s":"U","x":58026,"y":4},{"s":"U","x":58034,"y":1},{"s":"U","x":58042,"y":12},{"s":"U","x":58050,"y":-12},{"s":"U","x":58058,"y":6},{"s":"U","x":58066,"y":-5},{"s":"U","x":58074,"y":-25},{"s":"U","x":58082,"y":-13},{"s":"U","x":58090,"y":7},{"s":"U","x":58098,"y":-18},{"s":"U","x":58106,"y":-3},{"s":"U","x":58114,"y":3},{"s":"U","x":58122,"y":-11},{"s":"U","x":58130,"y":5},{"s":"U","x":58138,"y":-2},{"s":"U","x":58146,"y":8},{"s":"U","x":58154,"y":-8},{"s":"U","x":58162,"y":0},{"s":"U","x":58170,"y":4},{"s":"U","x":58178,"y":9},{"s":"U","x":58185,"y":-65},{"s":"U","x":58187,"y":100},{"s":"U","x":58194,"y":-3},{"s":"U","x":58202,"y":6},{"s":"U","x":58210,"y":-14},{"s":"U","x":58218,"y":-1},{"s":"U","x":58226,"y":12},{"s":"U","x":58234,"y":0},{"s":"U","x":58242,"y":3},{"s":"U","x":58250,"y":-12},{"s":"U","x":58258,"y":33},{"s":"U","x":58266,"y":16},{"s":"U","x":58274,"y":18},{"s":"U","x":58282,"y":8},{"s":"U","x":58290,"y":56},{"s":"U","x":58291,"y":31},{"s":"U","x":58298,"y":2},{"s":"U","x":58306,"y":20},{"s":"U","x":58314,"y":26},{"s":"U","x":58330,"y":-19},{"s":"U","x":58345,"y":-53},{"s":"U","x":58375,"y":-35},{"s":"U","x":58375,"y":-51.7},{"s":"U","x":58404,"y":-32.8},{"s":"U","x":58404,"y":-41.8},{"s":"U","x":58410,"y":-20.7},{"s":"U","x":58421,"y":-44},{"s":"U","x":58473,"y":-26.7}
]},
"vconcat":[
{
 "width":752,"height":475,
 "title":{"text":"Differences UT1-UTC calculated by AC SAI-VNIIFTRI, BKG, IAA, USNO (24-h sessions)","offset":4},
 "data":{"name":"top"},
 "mark":{"type":"point","filled":false,"strokeWidth":1.6,"size":60,"opacity":1},
 "encoding":{
  "x":{"field":"x","type":"quantitative","title":"MJD","scale":{"domain":[57714.6,58400],"nice":false,"zero":false},"axis":{"values":[57900,58100,58300],"format":"d","titlePadding":10}},
  "y":{"field":"y","type":"quantitative","title":"Δ (UT1-UTC) in μ s","scale":{"domain":[-50,40],"nice":false,"zero":false},"axis":{"values":[-50,-40,-30,-20,-10,0,10,20,30,40],"labelPadding":6,"minExtent":45,"maxExtent":45,"titlePadding":0,"titleFontWeight":"normal"}},
  "color":{"field":"s","type":"nominal","scale":{"domain":["I","B","U"],"range":["#e3161e","#1226c8","#22ee22"]},"legend":{"orient":"none","legendX":410,"legendY":12,"title":null,"strokeColor":"#262626","fillColor":"white","padding":4,"rowPadding":0,"symbolSize":55,"symbolStrokeWidth":2,"labelOffset":11,"labelFontSize":12.4,"labelExpr":"datum.label=='I'?'IAA - SAI-VNIIFTRI, WM = -11.0, WRMS = 14.2':datum.label=='B'?'BKG - SAI-VNIIFTRI, WM = -2.7, WRMS = 11.3':'USNO - SAI-VNIIFTRI, WM = -4.8, WRMS = 12.4'"}},
  "shape":{"field":"s","type":"nominal","scale":{"domain":["I","B","U"],"range":["M0,-1.15L0.75,0L0,1.15L-0.75,0Z","square","M-1,0L1,0M0,-1L0,1M-0.7,-0.7L0.7,0.7M-0.7,0.7L0.7,-0.7"]},"legend":{"orient":"none","legendX":410,"legendY":12,"title":null,"strokeColor":"#262626","fillColor":"white","padding":4,"rowPadding":0,"symbolSize":55,"symbolStrokeWidth":2,"labelOffset":11,"labelFontSize":12.4,"labelExpr":"datum.label=='I'?'IAA - SAI-VNIIFTRI, WM = -11.0, WRMS = 14.2':datum.label=='B'?'BKG - SAI-VNIIFTRI, WM = -2.7, WRMS = 11.3':'USNO - SAI-VNIIFTRI, WM = -4.8, WRMS = 12.4'"}}
 }
},
{
 "width":753,"height":467,
 "title":{"text":"Differences UT1-UTC calculated by AC SAI-VNIIFTRI, BKG, IAA, USNO (Intensive sessions)","offset":4},
 "data":{"name":"bot"},
 "mark":{"type":"point","filled":false,"strokeWidth":1.6,"size":60,"opacity":1},
 "encoding":{
  "x":{"field":"x","type":"quantitative","title":"MJD","scale":{"domain":[57700,58500],"nice":false,"zero":false},"axis":{"values":[57900,58100,58300],"format":"d","titlePadding":4}},
  "y":{"field":"y","type":"quantitative","title":"Δ (UT1-UTC) in μ s","scale":{"domain":[-100,100],"nice":false,"zero":false},"axis":{"values":[-100,-80,-60,-40,-20,0,20,40,60,80,100],"labelPadding":6,"minExtent":45,"maxExtent":45,"titlePadding":0,"titleFontWeight":"normal"}},
  "color":{"field":"s","type":"nominal","scale":{"domain":["I","B","U"],"range":["#e3161e","#1226c8","#22ee22"]},"legend":{"orient":"none","legendX":425,"legendY":12,"title":null,"strokeColor":"#262626","fillColor":"white","padding":4,"rowPadding":0,"symbolSize":55,"symbolStrokeWidth":2,"labelOffset":11,"labelExpr":"datum.label=='I'?'IAA - SAI-VNIIFTRI, WM = -4.8, WRMS=21.8':datum.label=='B'?'BKG - SAI-VNIIFTRI, WM = -4.3, WRMS=20.9':'USNO - SAI-VNIIFTRI, WM = -3.4, WRMS=28.8'"}},
  "shape":{"field":"s","type":"nominal","scale":{"domain":["I","B","U"],"range":["M0,-1.15L0.75,0L0,1.15L-0.75,0Z","square","M-1,0L1,0M0,-1L0,1M-0.7,-0.7L0.7,0.7M-0.7,0.7L0.7,-0.7"]},"legend":{"orient":"none","legendX":425,"legendY":12,"title":null,"strokeColor":"#262626","fillColor":"white","padding":4,"rowPadding":0,"symbolSize":55,"symbolStrokeWidth":2,"labelOffset":11,"labelExpr":"datum.label=='I'?'IAA - SAI-VNIIFTRI, WM = -4.8, WRMS=21.8':datum.label=='B'?'BKG - SAI-VNIIFTRI, WM = -4.3, WRMS=20.9':'USNO - SAI-VNIIFTRI, WM = -3.4, WRMS=28.8'"}}
 }
}
]
}
